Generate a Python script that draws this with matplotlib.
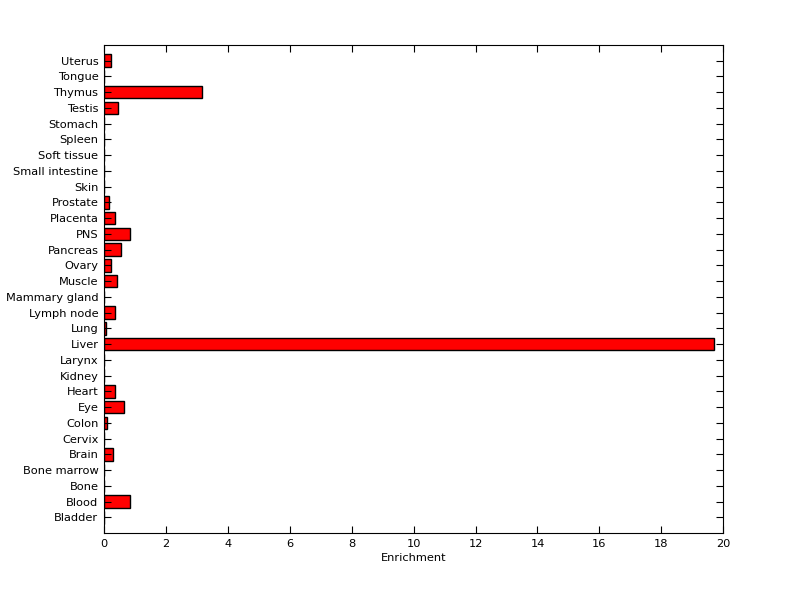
import matplotlib
matplotlib.use("Agg")
import matplotlib.pyplot as plt
import numpy as np

tissues = ["Bladder", "Blood", "Bone", "Bone marrow", "Brain", "Cervix", "Colon", "Eye",
           "Heart", "Kidney", "Larynx", "Liver", "Lung", "Lymph node", "Mammary gland",
           "Muscle", "Ovary", "Pancreas", "PNS", "Placenta", "Prostate", "Skin",
           "Small intestine", "Soft tissue", "Spleen", "Stomach", "Testis", "Thymus",
           "Tongue", "Uterus"]
enrichment = [0.0, 0.85, 0.0, 0.0, 0.29, 0.0, 0.10, 0.63,
              0.37, 0.0, 0.0, 19.69, 0.08, 0.34, 0.0,
              0.43, 0.24, 0.56, 0.85, 0.37, 0.17, 0.0,
              0.0, 0.0, 0.0, 0.0, 0.46, 3.17,
              0.0, 0.24]
xticks = [0, 2, 4, 6, 8, 10, 12, 14, 16, 18, 20]

plt.rcParams["font.family"] = ["DejaVu Sans"]
fig = plt.figure(figsize=(8.0, 5.99), dpi=100)
ax = fig.add_axes([0.13, 0.110, 0.774, 0.815])

pos = np.arange(1, len(tissues) + 1)
ax.barh(pos, enrichment, height=0.8, color="#ff0000", edgecolor="black", linewidth=1)

ax.set_xlim(0, 20)
ax.set_ylim(0, len(tissues) + 1)
ax.set_xticks(xticks)
ax.set_yticks(pos)
ax.set_yticklabels(tissues)
ax.tick_params(direction="in", length=5, width=0.8, labelsize=8.2, pad=4,
               top=True, right=True, colors="black")
ax.set_xlabel("Enrichment", fontsize=8.2, labelpad=3)
for s in ax.spines.values():
    s.set_linewidth(0.8)

fig.savefig("out.png", dpi=100)
